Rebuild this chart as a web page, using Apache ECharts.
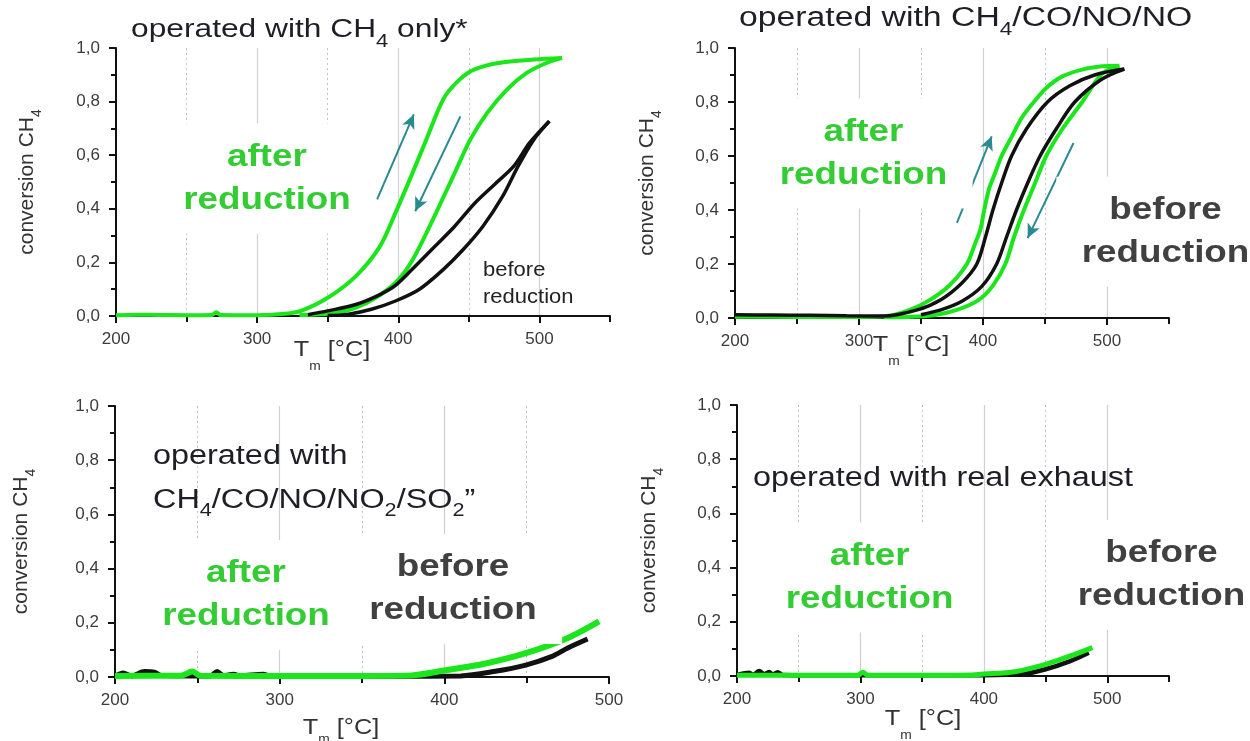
<!DOCTYPE html>
<html>
<head>
<meta charset="utf-8">
<title>conversion CH4</title>
<script src="https://cdn.jsdelivr.net/npm/echarts@6.0.0/dist/echarts.min.js"></script>
<style>
    html, body { margin: 0; padding: 0; background: #fff; }
    #chart { width: 1250px; height: 741px; }
</style>
</head>
<body>
<div id="chart"></div>
<script>
"use strict";

// ---- data: [T in °C, conversion CH4] ----

// operated with CH4 only
var tlGreenHeat = [[200,0.003],[215,0.005],[230,0.004],[250,0.003],[268,0.004],[271,0.014],[274,0.004],[300,0.003],[320,0.008],[331,0.019],[350,0.068],[370,0.149],[387,0.26],[398,0.385],[409,0.52],[420,0.66],[432,0.81],[443,0.88],[454,0.92],[471,0.944],[496,0.957],[516,0.963]];
var tlGreenCool = [[516,0.963],[505,0.944],[491,0.907],[477,0.845],[463,0.758],[451,0.658],[440,0.534],[429,0.41],[420,0.31],[409,0.199],[398,0.124],[384,0.068],[370,0.031],[356,0.012],[342,0.006],[330,0.004]];
var tlBlackHeat = [[336,0.005],[350,0.019],[370,0.043],[387,0.08],[398,0.114],[412,0.186],[426,0.26],[440,0.335],[454,0.42],[468,0.49],[482,0.56],[493,0.646],[507,0.727]];
var tlBlackCool = [[507,0.727],[496,0.658],[485,0.56],[474,0.447],[460,0.335],[446,0.248],[432,0.174],[415,0.1],[398,0.056],[381,0.025],[364,0.006],[350,0.002]];
var tlArrows = [[[385,0.435],[411,0.752]], [[444,0.745],[412,0.391]]];

// operated with CH4/CO/NO/NO
var trGreenHeat = [[200,0.005],[250,0.004],[300,0.004],[320,0.006],[334,0.019],[353,0.056],[372,0.117],[387,0.2],[394,0.28],[398,0.33],[401,0.4],[405,0.48],[410,0.54],[415,0.6],[423,0.67],[431,0.74],[441,0.8],[451,0.852],[464,0.895],[480,0.92],[496,0.932],[510,0.934]];
var trGreenCool = [[510,0.934],[496,0.905],[480,0.8],[464,0.7],[451,0.6],[442,0.5],[433,0.4],[425,0.3],[418,0.2],[408,0.12],[396,0.065],[379,0.03],[360,0.01],[340,0.004],[320,0.003]];
var trBlackHeat = [[200,0.012],[230,0.011],[260,0.01],[290,0.008],[320,0.007],[347,0.03],[366,0.068],[383,0.13],[395,0.2],[402,0.3],[408,0.4],[415,0.5],[423,0.6],[435,0.7],[452,0.8],[470,0.86],[490,0.9],[514,0.922]];
var trBlackCool = [[514,0.922],[496,0.885],[474,0.8],[459,0.7],[446,0.6],[436,0.5],[427,0.4],[419,0.3],[411,0.2],[399,0.117],[383,0.062],[366,0.03],[350,0.012]];
var trArrows = [[[379,0.352],[407,0.673]], [[473,0.648],[436,0.296]]];

// operated with CH4/CO/NO/NO2/SO2
var blBlack = [[200,0.003],[205,0.015],[210,0.004],[218,0.02],[224,0.018],[228,0.006],[245,0.004],[258,0.004],[262,0.02],[266,0.005],[272,0.01],[276,0.004],[290,0.01],[294,0.004],[330,0.003],[370,0.003],[410,0.004],[430,0.02],[450,0.045],[465,0.075],[475,0.107],[487,0.14]];
var blGreen = [[200,0.004],[240,0.005],[247,0.02],[252,0.005],[300,0.004],[350,0.004],[380,0.006],[400,0.024],[425,0.05],[450,0.089],[475,0.144],[494,0.205]];

// operated with real exhaust
var brBlack = [[200,0.004],[210,0.012],[213,0.004],[218,0.018],[222,0.006],[226,0.015],[229,0.005],[233,0.014],[237,0.004],[260,0.003],[300,0.003],[350,0.003],[400,0.003],[430,0.006],[450,0.025],[470,0.055],[485,0.086]];
var brGreen = [[200,0.003],[240,0.003],[270,0.003],[298,0.003],[302,0.014],[306,0.003],[350,0.003],[390,0.004],[400,0.007],[425,0.016],[450,0.043],[470,0.074],[488,0.105]];

// ---- styling ----
var FONT = "'Liberation Sans', Arial, sans-serif";
var GREEN = '#1be61b';
var GREEN_TEXT = '#33cc33';
var BLACK = '#111111';
var TEAL = '#2a8b8e';
var DARK = '#404040';

var panels = [
    { grid: {left: 116, top: 48, width: 494, height: 268}, xMax: 550, nameGap: 72,
      curves: [[tlGreenHeat, GREEN, 4], [tlGreenCool, GREEN, 4], [tlBlackHeat, BLACK, 3.5], [tlBlackCool, BLACK, 3.5]],
      arrows: tlArrows },
    { grid: {left: 735, top: 48, width: 434, height: 270}, xMax: 550, nameGap: 71,
      curves: [[trGreenHeat, GREEN, 4], [trGreenCool, GREEN, 4], [trBlackHeat, BLACK, 3.5], [trBlackCool, BLACK, 3.5]],
      arrows: trArrows },
    { grid: {left: 115, top: 406, width: 494, height: 271}, xMax: 500, nameGap: 77,
      curves: [[blBlack, BLACK, 5], [blGreen, GREEN, 6]],
      arrows: [] },
    { grid: {left: 737, top: 405, width: 432, height: 271}, xMax: 550, nameGap: 71,
      curves: [[brBlack, BLACK, 4.5], [brGreen, GREEN, 5]],
      arrows: [] }
];

var grids = [], xAxes = [], yAxes = [], series = [];

panels.forEach(function (p, i) {
    grids.push(Object.assign({outerBoundsMode: 'none', containLabel: false}, p.grid));

    // major axis: labels, ticks every 100, solid grid lines
    xAxes.push({
        gridIndex: i, type: 'value', min: 200, max: p.xMax, interval: 100, position: 'bottom',
        axisLine: {show: true, onZero: false, lineStyle: {color: BLACK, width: 2}},
        axisTick: {show: true, inside: false, length: 7, lineStyle: {color: BLACK, width: 2}},
        axisLabel: {show: true, margin: 15, color: '#3c3c3c', fontSize: 17, fontFamily: FONT,
                    showMinLabel: true, showMaxLabel: p.xMax === 500},
        splitLine: {show: true, showMinLine: false, showMaxLine: false, lineStyle: {color: '#d0d0d0', width: 1.2}}
    });
    // overlay axis: ticks every 50, dotted lines at the half hundreds
    xAxes.push({
        gridIndex: i, type: 'value', min: 200, max: p.xMax, interval: 50, position: 'bottom',
        axisLine: {show: false, onZero: false},
        axisTick: {show: true, inside: false, length: 6, lineStyle: {color: BLACK, width: 2}},
        axisLabel: {show: false},
        splitLine: {show: true, showMaxLine: false,
                    lineStyle: {color: ['rgba(0,0,0,0)', '#c2c2c2'], type: [2, 3], width: 1}}
    });

    yAxes.push({
        gridIndex: i, type: 'value', min: 0, max: 1, interval: 0.2, position: 'left',
        axisLine: {show: true, onZero: false, lineStyle: {color: BLACK, width: 2}},
        axisTick: {show: true, inside: false, length: 7, lineStyle: {color: BLACK, width: 2}},
        minorTick: {show: true, splitNumber: 2, length: 5, lineStyle: {color: BLACK, width: 2}},
        axisLabel: {margin: 16, color: '#3c3c3c', fontSize: 17, fontFamily: FONT,
                    formatter: function (v) { return v.toFixed(1).replace('.', ','); }},
        splitLine: {show: false},
        name: '{n|conversion CH}{s|4}', nameLocation: 'middle', nameGap: p.nameGap, nameRotate: 90,
        nameTextStyle: {
            color: '#333',
            rich: {
                n: {fontSize: 21, fontFamily: FONT, color: '#333', lineHeight: 34},
                s: {fontSize: 14, fontFamily: FONT, color: '#333', verticalAlign: 'bottom'}
            }
        }
    });

    p.curves.forEach(function (c, k) {
        var s = {
            type: 'line', xAxisIndex: 2 * i, yAxisIndex: i, data: c[0],
            symbol: 'none', showSymbol: false, smooth: 0.3, silent: true, animation: false,
            lineStyle: {color: c[1], width: c[2]}, z: 2 + k * 0.01
        };
        if (k === 0 && p.arrows.length) {
            s.markLine = {
                silent: true, animation: false, symbol: ['none', 'arrow'], symbolSize: [10, 14],
                lineStyle: {color: TEAL, width: 2, type: 'solid'}, label: {show: false},
                data: p.arrows.map(function (a) { return [{coord: a[0]}, {coord: a[1]}]; })
            };
        }
        series.push(s);
    });
});

// ---- texts ----
function richTitle(x, y, text, size, sub, lh, sx) {
    return {
        type: 'text', x: x, y: y, scaleX: sx, z: 100, silent: true,
        style: {
            text: text, align: 'left', verticalAlign: 'middle',
            rich: {
                n: {fontSize: size, fontFamily: FONT, fill: '#1e1e26', lineHeight: lh},
                s: {fontSize: sub, fontFamily: FONT, fill: '#1e1e26', verticalAlign: 'bottom'}
            }
        }
    };
}

function boxLabel(x, y, text, color) {
    return {
        type: 'text', x: x, y: y, scaleX: 1.15, z: 100, silent: true,
        style: {
            text: text, fill: color, fontSize: 32, fontWeight: 'bold', fontFamily: FONT,
            align: 'center', verticalAlign: 'middle', lineHeight: 43,
            backgroundColor: '#fff', padding: [12, 22]
        }
    };
}

function xName(x, y, lh) {
    return {
        type: 'text', x: x, y: y, scaleX: 1.15, z: 100, silent: true,
        style: {
            text: '{n|T}{s|m}{n| [°C]}', align: 'center', verticalAlign: 'middle',
            rich: {
                n: {fontSize: 22, fontFamily: FONT, fill: '#333', lineHeight: lh},
                s: {fontSize: 12, fontFamily: FONT, fill: '#333', verticalAlign: 'bottom'}
            }
        }
    };
}

var graphics = [
    richTitle(131, 29.5, '{n|operated with CH}{s|4}{n| only*}', 26, 18, 44, 1.22),
    richTitle(739, 19, '{n|operated with CH}{s|4}{n|/CO/NO/NO}', 27, 18, 40, 1.25),
    richTitle(153, 456.6, '{n|operated with}', 27, 18, 38, 1.2),
    richTitle(153, 500.6, '{n|CH}{s|4}{n|/CO/NO/NO}{s|2}{n|/SO}{s|2}{n|”}', 27, 18, 38, 1.2),
    richTitle(753, 478.9, '{n|operated with real exhaust}', 27, 18, 38, 1.2),

    boxLabel(267, 178.5, 'after\nreduction', GREEN_TEXT),
    boxLabel(863.5, 153.5, 'after\nreduction', GREEN_TEXT),
    boxLabel(1165.5, 231.7, 'before\nreduction', DARK),
    boxLabel(246, 595, 'after\nreduction', GREEN_TEXT),
    boxLabel(453, 589, 'before\nreduction', DARK),
    boxLabel(869.6, 577.5, 'after\nreduction', GREEN_TEXT),
    boxLabel(1161.5, 575, 'before\nreduction', DARK),

    {
        type: 'text', x: 483, y: 283.5, scaleX: 1.1, z: 100, silent: true,
        style: {text: 'before\nreduction', fill: '#222', fontSize: 20, fontFamily: FONT,
                align: 'left', verticalAlign: 'middle', lineHeight: 27}
    },

    xName(332, 350.4, 44),
    xName(911, 345.4, 44),
    xName(341, 727.5, 36),
    xName(923, 719.4, 44)
];

var chart = echarts.init(document.getElementById('chart'), null, {renderer: 'canvas'});
chart.setOption({
    backgroundColor: '#fff',
    animation: false,
    grid: grids,
    xAxis: xAxes,
    yAxis: yAxes,
    series: series,
    graphic: {elements: graphics}
});
</script>
</body>
</html>
